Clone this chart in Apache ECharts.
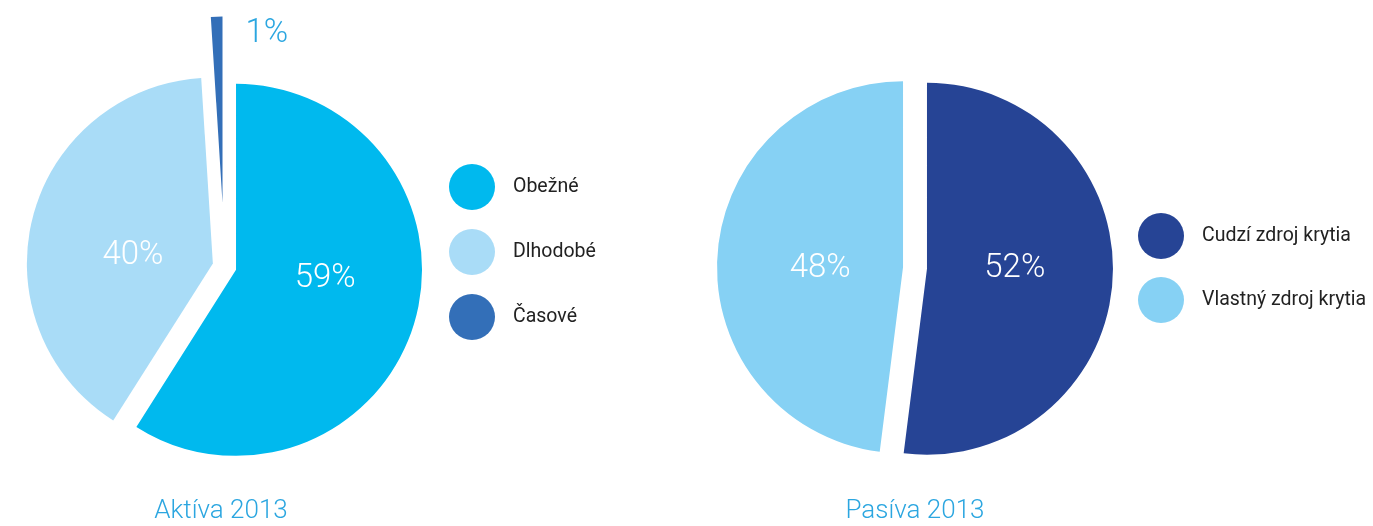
<!DOCTYPE html>
<html>
<head>
<meta charset="utf-8">
<script src="https://cdn.jsdelivr.net/npm/echarts@6/dist/echarts.min.js"></script>
<style>
  html, body { margin: 0; padding: 0; background: #fff; }
  #chart { width: 1373px; height: 526px; }
</style>
</head>
<body>
<div id="chart"></div>
<script>
// data
var aktivaNames = ['Obežné', 'Dlhodobé', 'Časové'];
var aktivaValues = [59, 40, 1];
var aktivaColors = ['#00b9ee', '#a9dcf7', '#336fb8'];

var pasivaNames = ['Cudzí zdroj krytia', 'Vlastný zdroj krytia'];
var pasivaValues = [52, 48];
var pasivaColors = ['#264495', '#86d1f4'];

var titles = ['Aktíva 2013', 'Pasíva 2013'];

var pctFont = 'Roboto, "Liberation Sans", sans-serif';
var legendFont = 'Roboto, sans-serif';

var chart = echarts.init(document.getElementById('chart'));

// hlavne kolace (1% rez ide do zvlast serie, lebo ma vacsi offset)
var aktivaMain = aktivaNames.map(function (n, i) {
  var hidden = i === 2;
  return {
    name: n,
    value: aktivaValues[i],
    selected: !hidden,
    itemStyle: { color: hidden ? 'rgba(0,0,0,0)' : aktivaColors[i] },
    label: { show: !hidden }
  };
});
var aktivaSmall = aktivaNames.map(function (n, i) {
  var shown = i === 2;
  return {
    name: n,
    value: aktivaValues[i],
    selected: shown,
    itemStyle: { color: shown ? aktivaColors[i] : 'rgba(0,0,0,0)' },
    label: { show: shown }
  };
});
var pasivaData = pasivaNames.map(function (n, i) {
  return { name: n, value: pasivaValues[i], selected: true, itemStyle: { color: pasivaColors[i] } };
});

var insideLabel = {
  show: true,
  position: 'inside',
  formatter: '{c}%',
  color: '#fff',
  fontFamily: pctFont,
  fontWeight: 300,
  fontSize: 33
};

// posuny popiskov, aby sedeli ako v predlohe
var shiftAktiva = [[-3, -18], [13, 16]];
var shiftPasiva = [[-8, -6], [13, 8]];

var option = {
  animation: false,
  title: [
    {
      text: titles[0], left: 216, top: 493, textAlign: 'center',
      textStyle: { color: '#2ba6e0', fontSize: 26, fontWeight: 300, fontFamily: pctFont }
    },
    {
      text: titles[1], left: 910, top: 493, textAlign: 'center',
      textStyle: { color: '#2ba6e0', fontSize: 26, fontWeight: 300, fontFamily: pctFont }
    }
  ],
  legend: [
    {
      orient: 'vertical', left: 449, top: 164, padding: 0,
      icon: 'circle', itemWidth: 46, itemHeight: 46, itemGap: 19,
      selectedMode: false,
      data: aktivaNames.map(function (n, i) {
        return { name: n, itemStyle: { color: aktivaColors[i] } };
      }),
      textStyle: { color: '#222', fontSize: 19.5, fontFamily: legendFont, padding: [0, 0, 0, 13] }
    },
    {
      orient: 'vertical', left: 1138, top: 213, padding: 0,
      icon: 'circle', itemWidth: 46, itemHeight: 46, itemGap: 18,
      selectedMode: false,
      data: pasivaNames.map(function (n, i) {
        return { name: n, itemStyle: { color: pasivaColors[i] } };
      }),
      textStyle: { color: '#222', fontSize: 19.5, fontFamily: legendFont, padding: [0, 0, 0, 13] }
    }
  ],
  series: [
    {
      type: 'pie',
      center: [224.5, 266.5],
      radius: 186,
      startAngle: 90,
      selectedMode: 'multiple',
      selectedOffset: 12,
      silent: true,
      label: insideLabel,
      labelLine: { show: false },
      labelLayout: function (p) {
        var s = shiftAktiva[p.dataIndex] || [0, 0];
        return { dx: s[0], dy: s[1] };
      },
      data: aktivaMain
    },
    {
      type: 'pie',
      center: [224.5, 266.5],
      radius: 186,
      startAngle: 90,
      selectedMode: 'multiple',
      selectedOffset: 64,
      silent: true,
      label: {
        show: true, position: 'outside', formatter: '{c}%',
        color: '#2ba6e0', fontFamily: pctFont, fontWeight: 300, fontSize: 33
      },
      labelLine: { show: false },
      labelLayout: { dx: 107, dy: 32 },
      data: aktivaSmall
    },
    {
      type: 'pie',
      center: [915, 268],
      radius: 186,
      startAngle: 90,
      selectedMode: 'multiple',
      selectedOffset: 12,
      silent: true,
      label: insideLabel,
      labelLine: { show: false },
      labelLayout: function (p) {
        var s = shiftPasiva[p.dataIndex] || [0, 0];
        return { dx: s[0], dy: s[1] };
      },
      data: pasivaData
    }
  ]
};

chart.setOption(option);
</script>
</body>
</html>
